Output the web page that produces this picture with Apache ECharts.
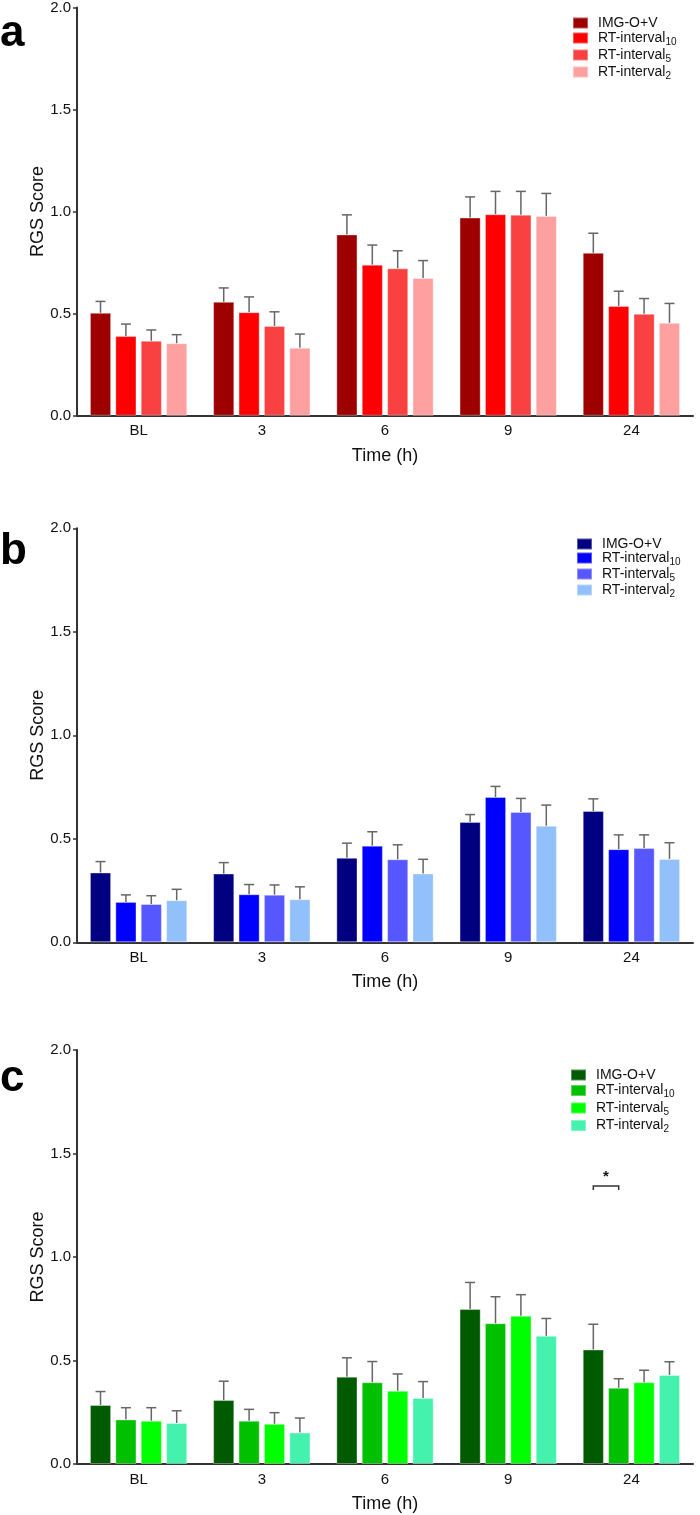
<!DOCTYPE html>
<html>
<head>
<meta charset="utf-8">
<script src="https://cdn.jsdelivr.net/npm/echarts@6/dist/echarts.min.js"></script>
<style>html,body{margin:0;padding:0;background:#fff}#c{width:700px;height:1515px}</style>
</head>
<body>
<div id="c"></div>
<script>
// ---- data ----
var categories = ['BL', '3', '6', '9', '24'];
var groupNames = ['IMG-O+V', 'RT-interval10', 'RT-interval5', 'RT-interval2'];
var yTicks = [0, 0.5, 1.0, 1.5, 2.0];

// Panel a (red)
var aImg  = [0.504, 0.558, 0.888, 0.971, 0.798];
var aRt10 = [0.390, 0.507, 0.740, 0.987, 0.538];
var aRt5  = [0.367, 0.440, 0.722, 0.985, 0.499];
var aRt2  = [0.355, 0.333, 0.675, 0.979, 0.455];
var aImgSem  = [0.056, 0.068, 0.096, 0.101, 0.096];
var aRt10Sem = [0.059, 0.075, 0.096, 0.112, 0.072];
var aRt5Sem  = [0.053, 0.069, 0.086, 0.114, 0.075];
var aRt2Sem  = [0.042, 0.067, 0.085, 0.110, 0.095];

// Panel b (blue)
var bImg  = [0.337, 0.332, 0.408, 0.581, 0.634];
var bRt10 = [0.195, 0.232, 0.467, 0.702, 0.450];
var bRt5  = [0.185, 0.230, 0.401, 0.630, 0.455];
var bRt2  = [0.203, 0.208, 0.332, 0.563, 0.403];
var bImgSem  = [0.053, 0.053, 0.071, 0.036, 0.059];
var bRt10Sem = [0.034, 0.047, 0.067, 0.051, 0.069];
var bRt5Sem  = [0.040, 0.047, 0.070, 0.065, 0.064];
var bRt2Sem  = [0.053, 0.060, 0.069, 0.100, 0.078];

// Panel c (green)
var cImg  = [0.285, 0.309, 0.422, 0.749, 0.553];
var cRt10 = [0.215, 0.209, 0.395, 0.680, 0.368];
var cRt5  = [0.209, 0.194, 0.354, 0.716, 0.395];
var cRt2  = [0.198, 0.152, 0.319, 0.619, 0.430];
var cImgSem  = [0.065, 0.091, 0.091, 0.128, 0.122];
var cRt10Sem = [0.057, 0.055, 0.100, 0.128, 0.044];
var cRt5Sem  = [0.063, 0.054, 0.081, 0.102, 0.058];
var cRt2Sem  = [0.059, 0.070, 0.079, 0.084, 0.064];

// significance annotation in panel c: category '24', between group 0 and group 1
var sigCategory = '24';
var sigGroups = [0, 1];
var sigLevel = 1.343;
var sigLabel = '*';

// ---- styling ----
var FONT = '"Liberation Sans", Arial, sans-serif';
var panels = [
  { key: 'a', letter: 'a', top: 6.5, height: 409.2, legendLeft: 572, legendTop: 16, legendGap: 1,
    colors: ['#9e0000', '#ff0000', '#f94141', '#ffa0a0'],
    means: [aImg, aRt10, aRt5, aRt2], sems: [aImgSem, aRt10Sem, aRt5Sem, aRt2Sem], letterY: 36 },
  { key: 'b', letter: 'b', top: 528.3, height: 414, legendLeft: 576, legendTop: 537, legendGap: 0,
    colors: ['#000080', '#0000ff', '#5757ff', '#92c0fa'],
    means: [bImg, bRt10, bRt5, bRt2], sems: [bImgSem, bRt10Sem, bRt5Sem, bRt2Sem], letterY: 554 },
  { key: 'c', letter: 'c', top: 1050, height: 414, legendLeft: 570, legendTop: 1068, legendGap: 1.5,
    colors: ['#005a00', '#00c000', '#00ff00', '#44f2ae'],
    means: [cImg, cRt10, cRt5, cRt2], sems: [cImgSem, cRt10Sem, cRt5Sem, cRt2Sem], letterY: 1081 }
];

var CAT_GAP = 0.21, BAR_GAP = 0.2, NBARS = 4;
function barOffset(bandWidth, i) {
  var usable = bandWidth * (1 - CAT_GAP);
  var bw = usable / (NBARS + (NBARS - 1) * BAR_GAP);
  return -usable / 2 + bw / 2 + i * bw * (1 + BAR_GAP);
}

function legendLabel(name) {
  var raw = name.split(':')[1];
  var m = raw.match(/^(RT-interval)(\d+)$/);
  if (m) return '{m|' + m[1] + '}{s|' + m[2] + '}';
  return '{m|' + raw + '}';
}

var grids = [], xAxes = [], yAxes = [], series = [], legends = [], graphics = [];

panels.forEach(function (p, pi) {
  grids.push({ left: 77, right: 7, top: p.top, height: p.height, containLabel: false });
  xAxes.push({
    type: 'category', gridIndex: pi, data: categories,
    name: 'Time (h)', nameLocation: 'middle', nameGap: 31, nameMoveOverlap: false,
    nameTextStyle: { fontFamily: FONT, fontSize: 18, color: '#111' },
    axisLine: { lineStyle: { color: '#333', width: 2 } },
    axisTick: { alignWithLabel: true, length: 4, lineStyle: { color: '#333', width: 1.5 } },
    axisLabel: { fontFamily: FONT, fontSize: 15, color: '#111', margin: 8 }
  });
  yAxes.push({
    type: 'value', gridIndex: pi, min: 0, max: 2, interval: 0.5,
    name: 'RGS Score', nameLocation: 'middle', nameGap: 30, nameRotate: 90, nameMoveOverlap: false,
    nameTextStyle: { fontFamily: FONT, fontSize: 18, color: '#111' },
    axisLine: { show: true, lineStyle: { color: '#333', width: 2 } },
    axisTick: { show: true, length: 4, lineStyle: { color: '#333', width: 1.5 } },
    splitLine: { show: false },
    axisLabel: { fontFamily: FONT, fontSize: 15, color: '#111', margin: 6,
      formatter: function (v) { return yTicks.indexOf(v) >= 0 ? v.toFixed(1) : ''; } }
  });
  var names = [];
  groupNames.forEach(function (g, gi) {
    var nm = p.key + ':' + g;
    names.push(nm);
    series.push({
      type: 'bar', name: nm, xAxisIndex: pi, yAxisIndex: pi,
      data: p.means[gi], barCategoryGap: (CAT_GAP * 100) + '%', barGap: (BAR_GAP * 100) + '%',
      itemStyle: { color: p.colors[gi], borderColor: 'rgba(255,255,255,0.35)', borderWidth: 1 },
      emphasis: { disabled: true }, z: 2
    });
  });
  groupNames.forEach(function (g, gi) {
    var d = p.means[gi].map(function (v, ci) { return [ci, v, p.sems[gi][ci]]; });
    series.push({
      type: 'custom', name: p.key + '-err-' + gi, xAxisIndex: pi, yAxisIndex: pi,
      data: d, encode: { x: 0, y: 1 }, z: 3, silent: true,
      renderItem: (function (idx) {
        return function (params, api) {
          var ci = api.value(0), m = api.value(1), s = api.value(2);
          var base = api.coord([ci, m]);
          var top = api.coord([ci, m + s]);
          var band = api.size([1, 0])[0];
          var x = base[0] + barOffset(band, idx);
          var st = { stroke: '#666', lineWidth: 1.5 };
          return { type: 'group', children: [
            { type: 'line', shape: { x1: x, y1: base[1], x2: x, y2: top[1] }, style: st },
            { type: 'line', shape: { x1: x - 5, y1: top[1], x2: x + 5, y2: top[1] }, style: st }
          ] };
        };
      })(gi)
    });
  });
  legends.push({
    data: names, left: p.legendLeft, top: p.legendTop, orient: 'vertical',
    itemWidth: 15, itemHeight: 11, itemGap: p.legendGap, padding: 0,
    selectedMode: false, icon: 'rect',
    formatter: legendLabel,
    textStyle: {
      padding: [0, 0, 0, 5],
      rich: {
        m: { fontFamily: FONT, fontSize: 14, color: '#111', lineHeight: 14, verticalAlign: 'top' },
        s: { fontFamily: FONT, fontSize: 10, color: '#111', lineHeight: 10, padding: [6, 0, 0, 0], verticalAlign: 'top' }
      }
    }
  });
  graphics.push({
    type: 'text', left: 0, top: p.letterY - 24,
    style: { text: p.letter, font: 'bold 44px ' + FONT, fill: '#000' }
  });
});

// significance bracket (panel c)
series.push({
  type: 'custom', name: 'sig', xAxisIndex: 2, yAxisIndex: 2, silent: true, z: 4,
  data: [[categories.indexOf(sigCategory), sigLevel, sigGroups[0], sigGroups[1]]],
  encode: { x: 0, y: 1 },
  renderItem: function (params, api) {
    var ci = api.value(0), lv = api.value(1);
    var c = api.coord([ci, lv]);
    var band = api.size([1, 0])[0];
    var x1 = c[0] + barOffset(band, api.value(2));
    var x2 = c[0] + barOffset(band, api.value(3));
    var st = { stroke: '#333', lineWidth: 1.5, fill: null };
    return { type: 'group', children: [
      { type: 'polyline', shape: { points: [[x1, c[1] + 4], [x1, c[1]], [x2, c[1]], [x2, c[1] + 4]] }, style: st },
      { type: 'text', style: { text: sigLabel, x: (x1 + x2) / 2, y: c[1] - 2, align: 'center', verticalAlign: 'bottom',
        font: 'bold 15px ' + FONT, fill: '#111' } }
    ] };
  }
});

var chart = echarts.init(document.getElementById('c'), null, { renderer: 'canvas' });
chart.setOption({
  animation: false,
  backgroundColor: '#fff',
  grid: grids, xAxis: xAxes, yAxis: yAxes, series: series, legend: legends,
  graphic: graphics
});
</script>
</body>
</html>
